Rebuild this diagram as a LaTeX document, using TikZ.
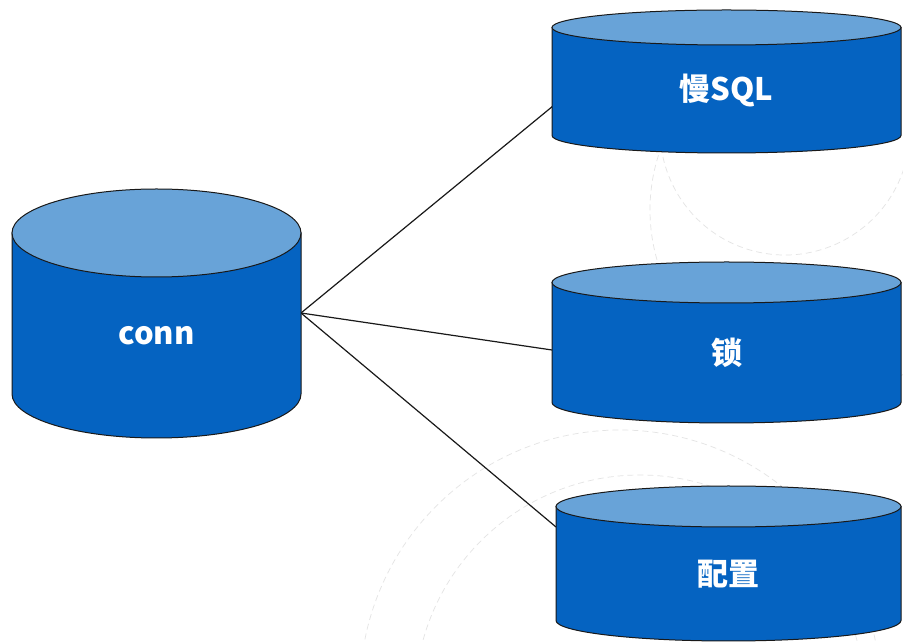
\documentclass[tikz,border=0pt]{standalone}
\usepackage{fontspec}
\newfontfamily\cjk{Noto Sans CJK SC}
\definecolor{dbside}{RGB}{5,99,193}
\definecolor{dbtop}{RGB}{104,163,216}
\definecolor{ghost}{RGB}{228,228,228}

% database cylinder: name, left x, right x, top-ellipse centre y, bottom-ellipse centre y, y radius, label
\newcommand\drawdb[7]{%
  \pgfmathsetmacro\cxv{(#2+#3)/2}%
  \pgfmathsetmacro\rxv{(#3-#2)/2}%
  \pgfmathsetmacro\lyv{(#4+#5-#6)/2}%
  \filldraw[dbbody] (#2,#4) -- (#2,#5)
    arc[start angle=180,end angle=360,x radius=\rxv,y radius=#6] -- (#3,#4) -- cycle;
  \filldraw[dbcap] (\cxv,#4) ellipse[x radius=\rxv,y radius=#6];
  \node[dblabel] (#1) at (\cxv,\lyv) {#7};
}

\begin{document}
\begin{tikzpicture}[x=1pt,y=1pt,
  dbbody/.style={fill=dbside,draw=black!90,line width=1pt},
  dbcap/.style={fill=dbtop,draw=black!90,line width=1pt},
  dblabel/.style={text=white,font=\cjk\bfseries\fontsize{31}{36}\selectfont,inner sep=0pt},
  link/.style={draw=black!90,line width=1.2pt},
  watermark/.style={draw=ghost,dashed,dash pattern=on 6pt off 4pt,line width=0.7pt}]
\useasboundingbox (0,0) rectangle (903,643);
\fill[white] (0,0) rectangle (903,643);

% faint background rings
\begin{scope}
  \clip (0,0) rectangle (903,643);
  \draw[watermark] (785,513) ++(165:125) arc[start angle=165,end angle=380,radius=125];
  \draw[watermark] (830,433) circle[radius=180];
  \draw[watermark] (620,-47) circle[radius=260];
  \draw[watermark] (640,-57) circle[radius=225];
\end{scope}

% connection points on the cylinder walls
\coordinate (conn-e) at (301,330);
\coordinate (slow-w) at (553,537);
\coordinate (lock-w) at (552,293);
\coordinate (conf-w) at (556,116);

\draw[link] (conn-e) -- (slow-w);
\draw[link] (conn-e) -- (lock-w);
\draw[link] (conn-e) -- (conf-w);

\drawdb{conn}{12}{301}{410}{249}{44}{conn}
\drawdb{slow}{552}{901}{615.5}{507.5}{17.5}{慢SQL}
\drawdb{lock}{552}{901}{360.5}{240.5}{20.5}{锁}
\drawdb{conf}{556}{901}{136.5}{22.5}{20.5}{配置}
\end{tikzpicture}
\end{document}
